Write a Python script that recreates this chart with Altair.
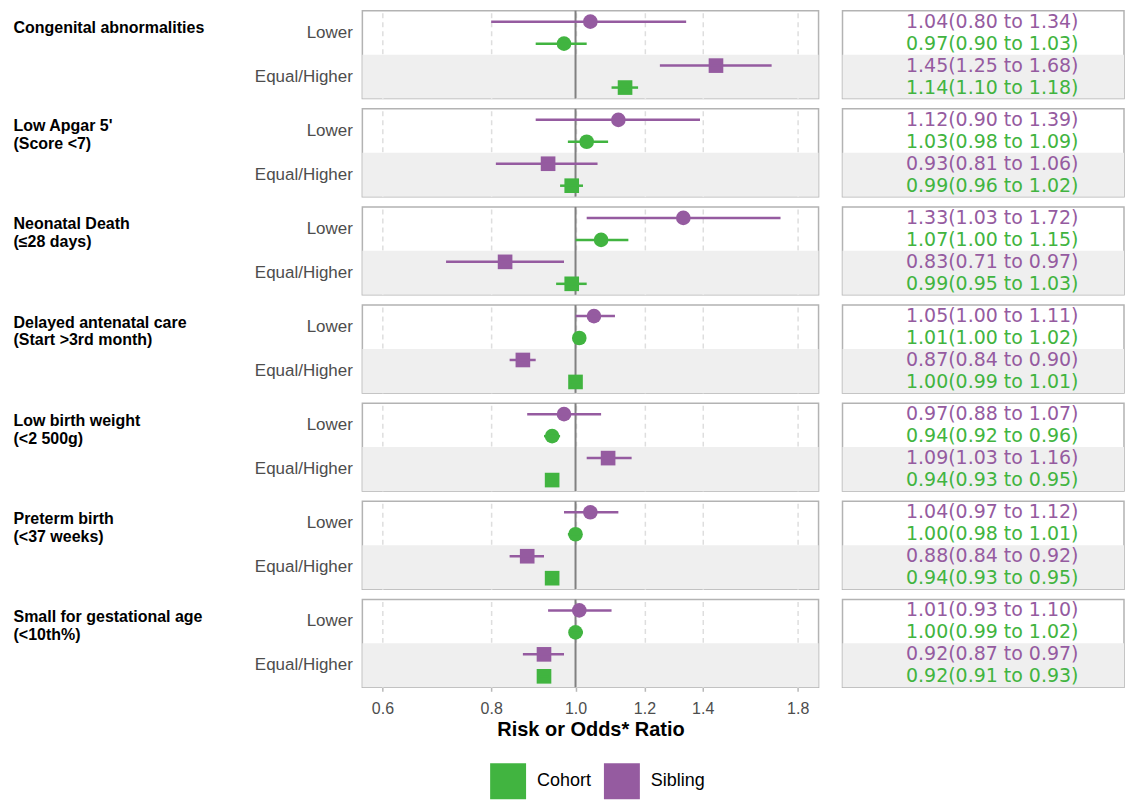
import altair as alt
import pandas as pd

categories = ["Congenital abnormalities", "Low Apgar 5'", "Neonatal Death",
              "Delayed antenatal care", "Low birth weight", "Preterm birth",
              "Small for gestational age"]
subtitles = ["", "(Score <7)", "(≤28 days)", "(Start >3rd month)", "(<2 500g)",
             "(<37 weeks)", "(<10th%)"]
groups = ["Lower", "Equal/Higher"]
studies = ["Sibling", "Cohort"]
legend_order = ["Cohort", "Sibling"]
tick_values = [0.6, 0.8, 1.0, 1.2, 1.4, 1.8]

sib_lower_est = [1.04, 1.12, 1.33, 1.05, 0.97, 1.04, 1.01]
sib_lower_lo = [0.80, 0.90, 1.03, 1.00, 0.88, 0.97, 0.93]
sib_lower_hi = [1.34, 1.39, 1.72, 1.11, 1.07, 1.12, 1.10]
coh_lower_est = [0.97, 1.03, 1.07, 1.01, 0.94, 1.00, 1.00]
coh_lower_lo = [0.90, 0.98, 1.00, 1.00, 0.92, 0.98, 0.99]
coh_lower_hi = [1.03, 1.09, 1.15, 1.02, 0.96, 1.01, 1.02]
sib_eq_est = [1.45, 0.93, 0.83, 0.87, 1.09, 0.88, 0.92]
sib_eq_lo = [1.25, 0.81, 0.71, 0.84, 1.03, 0.84, 0.87]
sib_eq_hi = [1.68, 1.06, 0.97, 0.90, 1.16, 0.92, 0.97]
coh_eq_est = [1.14, 0.99, 0.99, 1.00, 0.94, 0.94, 0.92]
coh_eq_lo = [1.10, 0.96, 0.95, 0.99, 0.93, 0.93, 0.91]
coh_eq_hi = [1.18, 1.02, 1.03, 1.01, 0.95, 0.95, 0.93]

GREEN = "#41B440"
PURPLE = "#955BA0"
W_F, W_T, H = 457, 282, 88

rows = []
series = [
    ("Lower", "Sibling", sib_lower_est, sib_lower_lo, sib_lower_hi),
    ("Lower", "Cohort", coh_lower_est, coh_lower_lo, coh_lower_hi),
    ("Equal/Higher", "Sibling", sib_eq_est, sib_eq_lo, sib_eq_hi),
    ("Equal/Higher", "Cohort", coh_eq_est, coh_eq_lo, coh_eq_hi),
]
for i, cat in enumerate(categories):
    for grp, st, est, lo, hi in series:
        rows.append({"category": cat, "group": grp, "study": st,
                     "est": est[i], "lo": lo[i], "hi": hi[i],
                     "label": f"{est[i]:.2f}({lo[i]:.2f} to {hi[i]:.2f})"})
df = pd.DataFrame(rows)
bg_df = pd.DataFrame({"group": ["Equal/Higher"]})

xscale = alt.Scale(type="log", domain=[0.569, 1.902], nice=False)
yscale = alt.Scale(domain=groups, paddingInner=0, paddingOuter=0)
cscale = alt.Scale(domain=legend_order, range=[GREEN, PURPLE])
yoff = alt.YOffset("study:N", scale=alt.Scale(domain=studies, paddingInner=0, paddingOuter=0))
shape = alt.Shape("group:N", scale=alt.Scale(domain=groups, range=["circle", "square"]), legend=None)
legend = alt.Legend(title=None, orient="none", legendX=128, legendY=754,
                    direction="horizontal", symbolType="square", symbolSize=1296,
                    symbolStrokeWidth=0, symbolOpacity=1, labelFontSize=18,
                    labelColor="black", labelOffset=11, columnPadding=12)


def forest(i):
    last = i == len(categories) - 1
    d = df[df.category == categories[i]]
    title = [categories[i], subtitles[i]] if subtitles[i] else categories[i]
    yenc = alt.Y("group:N", scale=yscale, title=title, axis=alt.Axis(
        labelFontSize=17, labelColor="#4d4d4d", labelPadding=10, ticks=False, tickSize=0,
        domain=False, titleAngle=0, titleAlign="left", titleBaseline="top",
        titleX=-350, titleY=9, titleFontSize=16, titleFontWeight="bold",
        titleColor="black", titleLineHeight=18))
    if last:
        xaxis = alt.Axis(values=tick_values, format=".1f", labelFontSize=16,
                         labelColor="#4d4d4d", labelPadding=9, tickSize=4,
                         tickColor="#b8b8b8", tickWidth=1.5, domain=False, grid=True,
                         gridDash=[5, 4], gridColor="#dedede", gridWidth=1.5,
                         titleFontSize=20, titleFontWeight="bold", titleColor="black",
                         titlePadding=3)
        xtitle = "Risk or Odds* Ratio"
    else:
        xaxis = alt.Axis(values=tick_values, labels=False, ticks=False, domain=False,
                         grid=True, gridDash=[5, 4], gridColor="#dedede", gridWidth=1.5)
        xtitle = None
    bg = alt.Chart(bg_df).mark_rect(color="#efefef").encode(y=yenc)
    ref = alt.Chart(bg_df).mark_rule(color="#808080", strokeWidth=2).encode(
        x=alt.datum(1.0))
    pts = alt.Chart(d).mark_point(filled=True, size=215, opacity=1, strokeWidth=0).encode(
        x=alt.X("est:Q", scale=xscale, axis=xaxis, title=xtitle),
        y=yenc, yOffset=yoff,
        color=alt.Color("study:N", scale=cscale, legend=legend),
        shape=shape)
    bars = alt.Chart(d).mark_rule(strokeWidth=2.5).encode(
        x=alt.X("lo:Q", scale=xscale, axis=xaxis, title=xtitle), x2="hi:Q",
        y=yenc, yOffset=yoff,
        color=alt.Color("study:N", scale=cscale))
    return alt.layer(bg, ref, pts, bars).properties(width=W_F, height=H)


def table(i):
    d = df[df.category == categories[i]]
    ytab = alt.Y("group:N", scale=yscale, axis=None)
    bg = alt.Chart(bg_df).mark_rect(color="#efefef").encode(y=ytab)
    txt = alt.Chart(d).mark_text(font="DejaVu Sans", fontSize=19, baseline="middle",
                                 dx=9).encode(
        y=ytab, yOffset=yoff, text="label:N",
        color=alt.Color("study:N", scale=cscale))
    return alt.layer(bg, txt).properties(width=W_T, height=H)


chart = alt.vconcat(
    *[alt.hconcat(forest(i), table(i), spacing=22) for i in range(len(categories))],
    spacing=6.3
).properties(
    padding={"left": 4, "top": 0, "right": 0, "bottom": 0}
).configure(font="Liberation Sans").configure_view(stroke="#b3b3b3", strokeWidth=1.5)

chart.save("out.html", embed_options={"renderer": "svg", "actions": False})
